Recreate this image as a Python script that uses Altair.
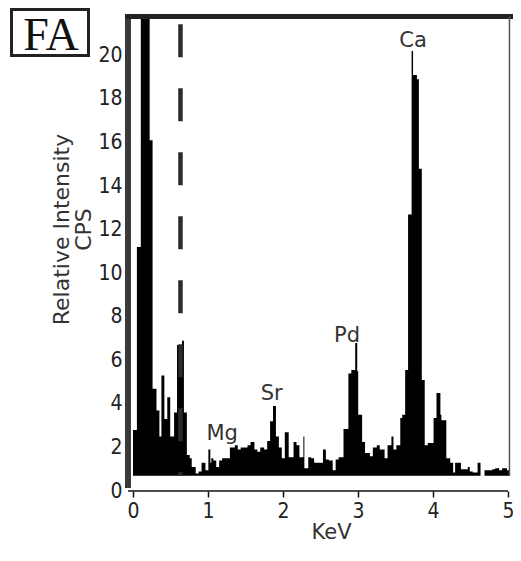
import altair as alt
import pandas as pd

# ---- data (energy in KeV, intensity in CPS) ----
kev_edges = [0.000, 0.052, 0.104, 0.222, 0.261, 0.313, 0.352, 0.379, 0.418, 0.457,
             0.496, 0.548, 0.587, 0.653, 0.679, 0.718, 0.757, 0.783, 0.836, 0.875,
             0.914, 0.966, 1.005, 1.031, 1.044, 1.071, 1.110, 1.149, 1.188, 1.292,
             1.358, 1.397, 1.436, 1.527, 1.567, 1.619, 1.658, 1.697, 1.749, 1.789,
             1.828, 1.867, 1.906, 1.945, 1.984, 2.024, 2.076, 2.141, 2.180, 2.219,
             2.272, 2.285, 2.337, 2.376, 2.415, 2.533, 2.572, 2.611, 2.663, 2.702,
             2.742, 2.807, 2.872, 2.911, 2.963, 2.990, 3.003, 3.055, 3.094, 3.159,
             3.198, 3.251, 3.290, 3.355, 3.394, 3.446, 3.473, 3.512, 3.564, 3.590,
             3.629, 3.668, 3.715, 3.734, 3.786, 3.812, 3.851, 3.890, 3.930, 4.008,
             4.047, 4.099, 4.112, 4.178, 4.230, 4.269, 4.295, 4.373, 4.465, 4.491,
             4.530, 4.595, 4.634, 4.687, 4.791, 4.830, 4.883, 4.922, 4.987]
cps = [2.8, 11.2, 30.0, 16.1, 4.7, 3.7, 2.5, 5.3, 3.3, 4.3,
       2.5, 3.6, 6.7, 6.9, 3.6, 1.65, 1.5, 1.1, 0.8, 0.9,
       1.3, 0.95, 1.9, 1.3, 1.5, 1.4, 1.1, 1.4, 1.5, 2.0,
       2.1, 1.9, 2.0, 2.1, 2.25, 1.9, 1.8, 2.0, 1.9, 2.3,
       3.2, 3.9, 2.5, 2.0, 1.5, 2.7, 1.55, 2.25, 2.1, 1.55,
       2.5, 1.05, 1.55, 1.5, 1.3, 1.9, 1.45, 1.4, 0.95, 1.45,
       1.55, 2.85, 5.4, 5.55, 6.8, 5.5, 3.5, 2.25, 1.75, 1.6,
       2.0, 2.1, 1.9, 1.5, 2.1, 2.5, 1.9, 2.1, 3.35, 3.5,
       5.55, 12.7, 20.2, 19.1, 18.9, 14.8, 5.1, 2.1, 2.2, 3.35,
       4.5, 3.5, 3.25, 1.5, 1.3, 0.85, 1.3, 1.0, 1.1, 0.9,
       0.85, 1.3, 0.7, 0.95, 1.0, 1.05, 0.95, 1.05, 0.95]
kev_end = 5.026
baseline_cps = 0.7

peak_names = ["Mg", "Sr", "Pd", "Ca"]
peak_kev = [1.188, 1.850, 2.853, 3.734]
peak_label_cps = [2.36, 4.18, 6.84, 20.38]

marker_kev = 0.633          # dashed marker line
x_ticks = [0, 1, 2, 3, 4, 5]
y_ticks = [0, 2, 4, 6, 8, 10, 12, 14, 16, 18, 20]
x_domain = [-0.1067, 5.067]
y_domain = [0, 21.9]

panel_label = "FA"
x_title = "KeV"
y_title = ["Relative Intensity", "CPS"]

# ---- build ----
spec = pd.DataFrame({"kev": kev_edges + [kev_end], "cps": cps + [cps[-1]]})
spec["base"] = baseline_cps

W, H = 388, 477
SANS = "DejaVu Sans"
NARROW = "Liberation Sans Narrow, DejaVu Sans Condensed, sans-serif"

xs = alt.Scale(domain=x_domain, nice=False, zero=False)
ys = alt.Scale(domain=y_domain, nice=False)

x_axis = alt.Axis(values=x_ticks, format="d", domain=False, grid=False,
                  tickSize=6, tickWidth=1.5, tickColor="#111",
                  labelFont=NARROW, labelFontSize=21, labelColor="#222",
                  labelPadding=3, title=x_title, titleFont=SANS,
                  titleFontSize=21, titleFontWeight="normal", titleColor="#333",
                  titleX=206, titleY=30, titleBaseline="top")
y_axis = alt.Axis(values=y_ticks, format="d", domain=False, grid=False,
                  ticks=False, labelFont=NARROW, labelFontSize=21,
                  labelColor="#222", labelPadding=3, title=y_title,
                  titleFont=SANS, titleFontSize=22, titleFontWeight="normal",
                  titleColor="#333", titleX=-52, titleY=215,
                  titleBaseline="bottom", titleLineHeight=22)

area = alt.Chart(spec).mark_area(interpolate="step-after", color="black",
                                 clip=True).encode(
    x=alt.X("kev:Q", scale=xs, axis=x_axis),
    y=alt.Y("cps:Q", scale=ys, axis=y_axis),
    y2="base:Q",
)

frame_df = pd.DataFrame({"kev": [marker_kev]})
dash = alt.Chart(frame_df).mark_rule(color="#2b2b2b", strokeWidth=4.5,
                                     strokeDash=[33, 31]).encode(
    x=alt.X("kev:Q", scale=xs),
    y=alt.datum(21.43), y2=alt.datum(baseline_cps))

left_bar = alt.Chart(frame_df).mark_rule(color="#3a3a3a", strokeWidth=6).encode(
    x=alt.datum(-0.067), y=alt.datum(0.14), y2=alt.datum(21.9))
top_bar = alt.Chart(frame_df).mark_rule(color="#222", strokeWidth=5).encode(
    x=alt.datum(-0.1067), x2=alt.datum(5.067), y=alt.datum(21.78))
right_bar = alt.Chart(frame_df).mark_rule(color="#555", strokeWidth=1.5).encode(
    x=alt.datum(5.02), y=alt.datum(baseline_cps), y2=alt.datum(21.78))
x_line = alt.Chart(frame_df).mark_rule(color="#111", strokeWidth=1.5).encode(
    x=alt.datum(-0.066), x2=alt.datum(5.0), y=alt.datum(0))

labels_df = pd.DataFrame({"name": peak_names, "kev": peak_kev, "cps": peak_label_cps})
labels = alt.Chart(labels_df).mark_text(font=SANS, fontSize=21, color="#333",
                                        baseline="alphabetic", align="center").encode(
    x=alt.X("kev:Q", scale=xs), y=alt.Y("cps:Q", scale=ys), text="name:N")

box = alt.Chart(frame_df).mark_rect(filled=False, stroke="#222", strokeWidth=3).encode(
    x=alt.value(-113.5), x2=alt.value(-36.5), y=alt.value(-4.5), y2=alt.value(41.5))
fa = alt.Chart(pd.DataFrame({"t": [panel_label]})).mark_text(
    font="Liberation Serif", fontSize=46, color="#111", align="center",
    baseline="alphabetic").encode(x=alt.value(-74), y=alt.value(36), text="t:N")

chart = alt.layer(area, dash, left_bar, top_bar, right_bar, x_line, labels, box, fa).properties(
    width=W, height=H,
    autosize=alt.AutoSizeParams(type="none"),
    padding={"left": 117, "top": 6, "right": 0, "bottom": 55},
).configure_view(stroke=None)

chart.save("out.html", embed_options={"renderer": "svg", "actions": False})
